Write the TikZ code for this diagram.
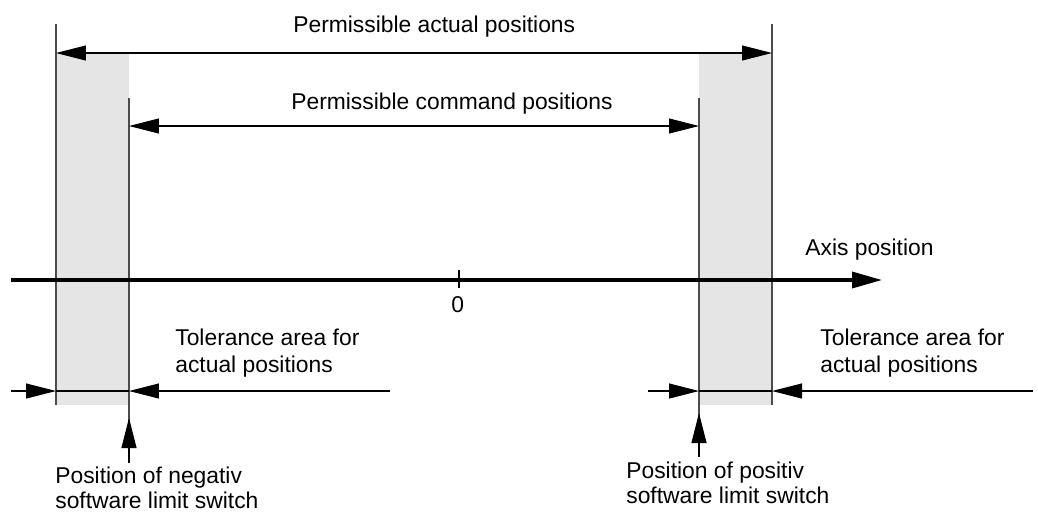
\documentclass[tikz,border=0pt]{standalone}
\usepackage{fontspec}
\setmainfont{Liberation Sans}
\usetikzlibrary{arrows.meta}

\begin{document}
\begin{tikzpicture}
    [x=0.02cm,y=-0.02cm,
     every node/.style={inner sep=0pt,anchor=base west,align=left,font=\fontsize{13}{15.3}\selectfont},
     dimline/.style={line width=0.6pt},
     tip/.style={dimline,-{Triangle[length=0.6cm,width=0.3cm]}},
     both/.style={dimline,{Triangle[length=0.6cm,width=0.3cm]}-{Triangle[length=0.6cm,width=0.3cm]}},
     edge/.style={draw=black!70,line width=0.6pt},
     axis/.style={line width=2pt,-{Triangle[length=0.6cm,width=0.32cm]}}]
    \useasboundingbox (0,0) rectangle (1038,511);
    \fill[black!10] (56,53) rectangle (129,405);
    \fill[black!10] (699,53) rectangle (772,405);
    \coordinate (lo1) at (56,24);
    \coordinate (lo2) at (56,405);
    \coordinate (li1) at (129,98);
    \coordinate (li2) at (129,463);
    \coordinate (ri1) at (699,98);
    \coordinate (ri2) at (699,457);
    \coordinate (ro1) at (772,24);
    \coordinate (ro2) at (772,405);
    \draw[edge] (lo1) -- (lo2);
    \draw[edge] (li1) -- (li2);
    \draw[edge] (ri1) -- (ri2);
    \draw[edge] (ro1) -- (ro2);
    \coordinate (a1) at (56,53);
    \coordinate (a2) at (772,53);
    \coordinate (c1) at (129,126);
    \coordinate (c2) at (699,126);
    \draw[both] (a1) -- (a2);
    \draw[both] (c1) -- (c2);
    \coordinate (x0) at (11,280);
    \coordinate (x1) at (882,280);
    \coordinate (t1) at (459,270);
    \coordinate (t2) at (459,288);
    \draw[axis] (x0) -- (x1);
    \draw[line width=1.5pt] (t1) -- (t2);
    \coordinate (tl0) at (11,391);
    \coordinate (tl1) at (56,391);
    \coordinate (tl2) at (129,391);
    \coordinate (tl3) at (390,391);
    \coordinate (tr0) at (648,391);
    \coordinate (tr1) at (699,391);
    \coordinate (tr2) at (772,391);
    \coordinate (tr3) at (1033,391);
    \draw[tip] (tl0) -- (tl1);
    \draw[dimline] (tl1) -- (tl2);
    \draw[tip] (tl3) -- (tl2);
    \draw[tip] (tr0) -- (tr1);
    \draw[dimline] (tr1) -- (tr2);
    \draw[tip] (tr3) -- (tr2);
    \coordinate (pl) at (129,418);
    \coordinate (pr) at (699,413);
    \draw[tip] (li2) -- (pl);
    \draw[tip] (ri2) -- (pr);
    \node (actual) at (293,32) {Permissible actual positions};
    \node (command) at (291,109) {Permissible command positions};
    \node (axislabel) at (805,255) {Axis position};
    \node (zero) at (451,312) {0};
    \node (tolneg) at (175,372) {Tolerance area for\\actual positions};
    \node (tolpos) at (820,372) {Tolerance area for\\actual positions};
    \node[font=\fontsize{13}{14.2}\selectfont] (limneg) at (55,508) {Position of negativ\\software limit switch};
    \node[font=\fontsize{13}{14.2}\selectfont] (limpos) at (626,503) {Position of positiv\\software limit switch};
\end{tikzpicture}
\end{document}
